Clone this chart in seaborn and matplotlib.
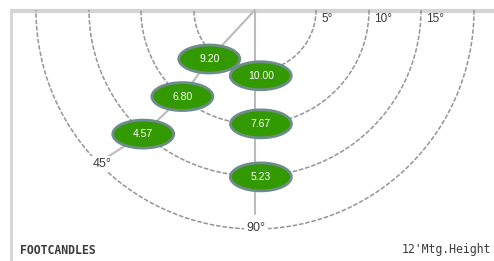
import numpy as np
import pandas as pd
import matplotlib
matplotlib.use("Agg")
import matplotlib.pyplot as plt
from matplotlib.patches import Ellipse
import seaborn as sns

# isofootcandle diagram, pixel-like units, luminaire at (255, 10)
center_x, center_y = 255, 10
ring_radius = [61, 114, 166, 219]
ring_labels = ["5°", "10°", "15°", ""]

# footcandle readings: value, distance from luminaire, angle from nadir (deg, + = left)
fc_values = ["9.20", "10.00", "6.80", "7.67", "4.57", "5.23"]
fc_radius = [67, 66, 113, 114, 167, 167]
fc_angle = [43, -5, 40, -3, 42, -2]

angle_labels = ["45°", "90°"]

sns.set_theme(style="white")
plt.rcParams["font.family"] = ["Liberation Sans", "DejaVu Sans"]

fig = plt.figure(figsize=(4.94, 2.61), dpi=100)
ax = fig.add_axes([0, 0, 1, 1])
ax.set_xlim(0, 494)
ax.set_ylim(261, 0)
ax.axis("off")

# frame lines
ax.plot([10, 494], [10.5, 10.5], color="#d4d4d4", lw=3, zorder=1, solid_capstyle="butt")
ax.plot([11, 11], [10, 261], color="#d4d4d4", lw=2, zorder=1)

# rings
t = np.linspace(0, np.pi, 200)
for r, lab in zip(ring_radius, ring_labels):
    arc = pd.DataFrame({"x": center_x + r * np.cos(t), "y": center_y + r * np.sin(t)})
    sns.lineplot(data=arc, x="x", y="y", sort=False, estimator=None, ax=ax,
                 color="#959595", lw=1.1, linestyle=(0, (3, 1.2)), zorder=2)
    if lab:
        ax.text(center_x + r + 5, 19, lab, ha="left", va="center",
                fontsize=8.5, color="#3a3a3a")

# positions of readings
rad = np.radians(fc_angle)
px = center_x - np.array(fc_radius) * np.sin(rad)
py = center_y + np.array(fc_radius) * np.cos(rad)

# nadir line
sns.lineplot(x=[center_x, center_x], y=[center_y, 214], sort=False, estimator=None,
             ax=ax, color="#bbbbbb", lw=1.5, zorder=3)

# 45 degree line through the left readings
left = [i for i, a in enumerate(fc_angle) if a > 20]
diag_x = [center_x] + [px[i] for i in left] + [106]
diag_y = [center_y] + [py[i] for i in left] + [158]
sns.lineplot(x=diag_x, y=diag_y, sort=False, estimator=None, ax=ax,
             color="#bbbbbb", lw=1.5, zorder=3)

for x, y, v in zip(px, py, fc_values):
    ax.add_patch(Ellipse((x, y), 61, 28, facecolor="#339900",
                         edgecolor="#6f8c8c", lw=2, zorder=5))
    ax.text(x, y, v, ha="center", va="center", color="white", fontsize=7.5, zorder=6)

box = dict(facecolor="white", edgecolor="none", pad=1.5)
ax.text(102, 164, angle_labels[0], ha="center", va="center", fontsize=9,
        color="#3a3a3a", bbox=box, zorder=4)
ax.text(256, 228, angle_labels[1], ha="center", va="center", fontsize=9,
        color="#3a3a3a", bbox=box, zorder=4)

ax.text(20, 250, "FOOTCANDLES", ha="left", va="center", fontsize=8.3,
        family="DejaVu Sans Mono", fontweight="bold", color="#3a3a3a")
ax.text(491, 249, "12'Mtg.Height", ha="right", va="center", fontsize=8.3,
        family="DejaVu Sans Mono", color="#3a3a3a")

fig.savefig("out.png", dpi=100)
